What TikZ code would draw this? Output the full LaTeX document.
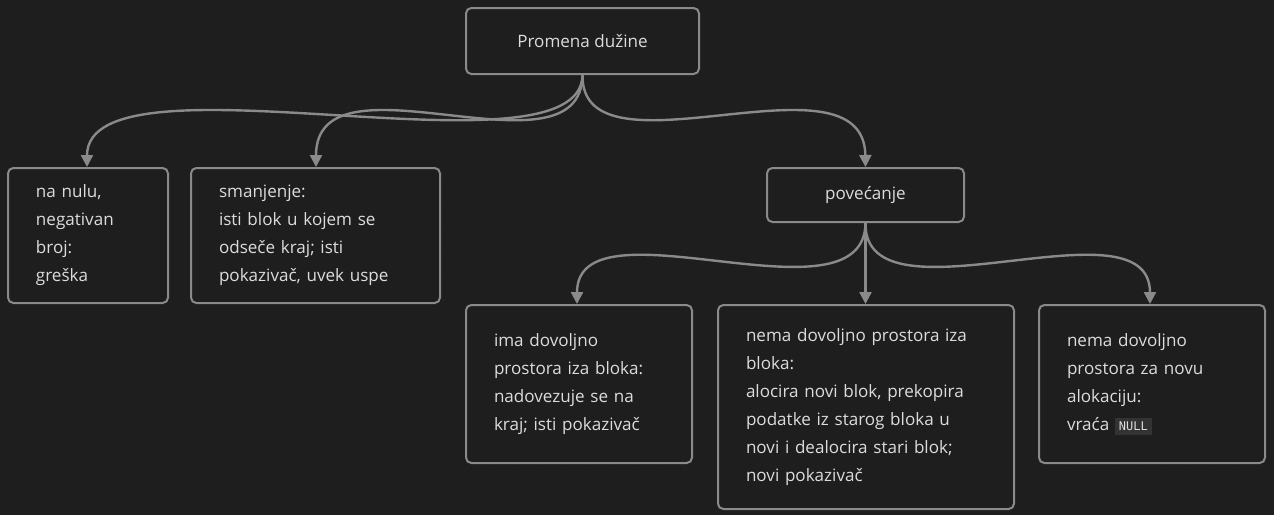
\documentclass[tikz,border=0pt]{standalone}
\usepackage{fontspec}
\setmainfont{Open Sans}
\setmonofont{DejaVu Sans Mono}
\usetikzlibrary{arrows.meta, positioning}
\definecolor{bgcol}{HTML}{1E1E1E}
\definecolor{boxcol}{HTML}{8A8A8A}
\definecolor{txtcol}{HTML}{DCDCDC}
\definecolor{codebg}{HTML}{333333}
\tikzset{
  box/.style={draw=boxcol, line width=1.5pt, rounded corners=4pt, fill=bgcol,
    text=txtcol, anchor=north west, inner xsep=21pt, inner ysep=0pt,
    align=left, font=\fontsize{12.8}{21}\selectfont},
  link/.style={draw=boxcol, line width=1.8pt, -{Triangle[length=9pt,width=9pt]}}
}
\newcommand{\boxat}[6]{% name, x, y, w, h, text
  \node[box, minimum width=#4*0.75pt, minimum height=#5*0.75pt,
        text width=#4*0.75pt-42pt] (#1) at (#2,#3) {#6};}
\begin{document}
\begin{tikzpicture}[x=0.75pt, y=-0.75pt]
  \fill[bgcol] (0,0) rectangle (1274,515);
  \useasboundingbox (0,0) rectangle (1274,515);
  \foreach \i in {0,...,52} \foreach \j in {0,...,20}
    \fill[black!80!white, opacity=0.35] (12+\i*24, 12+\j*24) circle (0.6pt);

  \node[box, align=center, inner xsep=0pt, minimum width=233*0.75pt,
        minimum height=66*0.75pt] (root) at (465,7) {Promena dužine};
  \boxat{zero}{7}{167}{160}{135}{na nulu,\\negativan\\broj:\\greška}
  \boxat{shrink}{190}{167}{249}{135}{smanjenje:\\isti blok u kojem se\\odseče kraj; isti\\pokazivač, uvek uspe}
  \node[box, align=center, inner xsep=0pt, minimum width=197*0.75pt,
        minimum height=54*0.75pt] (grow) at (766,167) {povećanje};
  \boxat{fits}{465}{304}{226}{158}{ima dovoljno\\prostora iza bloka:\\nadovezuje se na\\kraj; isti pokazivač}
  \boxat{moves}{717}{304}{296}{204}{nema dovoljno prostora iza\\bloka:\\alocira novi blok, prekopira\\podatke iz starog bloka u\\novi i dealocira stari blok;\\novi pokazivač}
  \boxat{fails}{1038}{304}{226}{158}{nema dovoljno\\prostora za novu\\alokaciju:\\vraća \colorbox{codebg}{\ttfamily\small NULL}}

  \draw[link] (root.south) .. controls (581,185) and (87,45) .. (zero.north -| 87,0);
  \draw[link] (root.south) .. controls (581,185) and (316,45) .. (shrink.north -| 316,0);
  \draw[link] (root.south) .. controls (581,185) and (864,45) .. (grow.north);
  \draw[link] (grow.south) .. controls (864,330) and (577,195) .. (fits.north -| 577,0);
  \draw[link] (grow.south) -- (moves.north -| grow.south);
  \draw[link] (grow.south) .. controls (864,330) and (1150,195) .. (fails.north -| 1150,0);
\end{tikzpicture}
\end{document}
